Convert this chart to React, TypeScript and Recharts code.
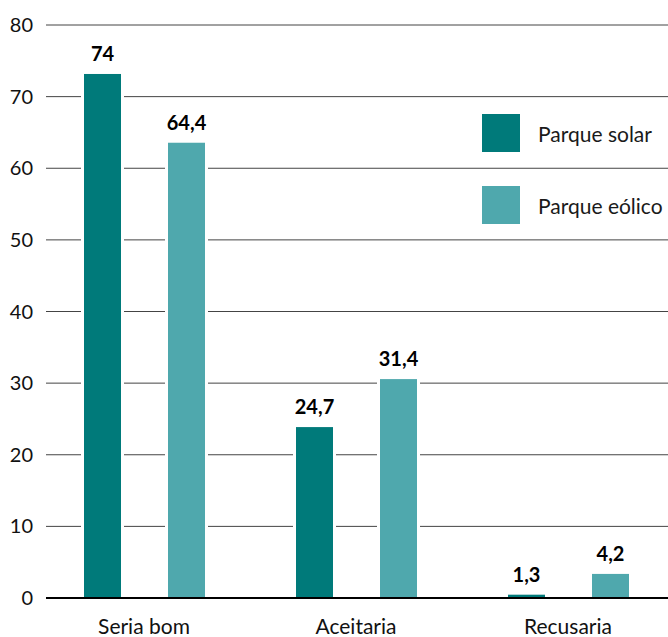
import React from 'react'
import {
  BarChart,
  Bar,
  XAxis,
  YAxis,
  CartesianGrid,
  Legend,
  LabelList,
} from 'recharts'

const categories = ['Seria bom', 'Aceitaria', 'Recusaria']
const solar = [74, 24.7, 1.3]
const eolico = [64.4, 31.4, 4.2]
const yTicks = [0, 10, 20, 30, 40, 50, 60, 70, 80]
const seriesNames = ['Parque solar', 'Parque eólico']

const SOLAR = '#007a7a'
const EOLICO = '#4fa8ad'
const FONT = 'Lato, "Open Sans", sans-serif'

const data = categories.map((name, i) => ({
  name,
  solar: solar[i],
  eolico: eolico[i],
}))

// bars in the original sit a little below their true top, with a white halo over the grid
const INSET = 6
const HALO = 3

const BarShape = (props: any) => {
  const { x, y, width, height, fill } = props
  const top = y + INSET
  const h = Math.max(height - INSET, 0)
  return (
    <g>
      <rect x={x - HALO} y={top - HALO} width={width + HALO * 2} height={Math.max(h + HALO - 1, 0)} fill="#fff" />
      <rect x={x} y={top} width={width} height={h} fill={fill} />
    </g>
  )
}

const ValueLabel = (props: any) => {
  const vb = props.viewBox ?? props
  const { x, y, width } = vb
  const v = String(props.value).replace('.', ',')
  return (
    <text
      x={x + width / 2}
      y={y + INSET - 13}
      textAnchor="middle"
      fontFamily={FONT}
      fontWeight={700}
      fontSize={20}
      fill="#000"
    >
      {v}
    </text>
  )
}

const LegendContent = ({ payload }: { payload?: Array<{ value: string; color: string }> }) => {
  const items = [...(payload ?? [])].sort(
    (a, b) => seriesNames.indexOf(a.value) - seriesNames.indexOf(b.value),
  )
  return (
    <div style={{ fontFamily: FONT }}>
      {items.map((p, i) => (
        <div
          key={i}
          style={{ display: 'flex', alignItems: 'center', height: 38, marginBottom: i === 0 ? 34 : 0 }}
        >
          <div style={{ width: 38, height: 38, background: p.color, marginRight: 18 }} />
          <span style={{ fontSize: 21, color: '#1a1a1a', whiteSpace: 'nowrap' }}>{p.value}</span>
        </div>
      ))}
    </div>
  )
}

export default function App() {
  return (
    <div style={{ position: 'absolute', left: 0, top: 0, background: '#fff' }}>
      <BarChart
        width={668}
        height={637}
        data={data}
        margin={{ top: 25, right: 0, bottom: 0, left: 0 }}
        barSize={37}
        barGap={47}
      >
        <CartesianGrid horizontal vertical={false} stroke="#444" />
        <XAxis
          dataKey="name"
          height={39}
          padding={{ left: -8, right: -6 }}
          axisLine={{ stroke: '#000', strokeWidth: 2 }}
          tickLine={false}
          tickMargin={15}
          tick={{ fill: '#111', fontSize: 21, fontFamily: FONT }}
        />
        <YAxis
          width={46}
          domain={[0, 80]}
          ticks={yTicks}
          axisLine={false}
          tickLine={false}
          tickMargin={7}
          tick={{ fill: '#111', fontSize: 20, fontFamily: FONT }}
        />
        <Legend
          layout="vertical"
          verticalAlign="middle"
          align="center"
          content={<LegendContent />}
          wrapperStyle={{ top: 114, left: 482, width: 186 }}
        />
        <Bar dataKey="solar" name={seriesNames[0]} fill={SOLAR} shape={<BarShape />} isAnimationActive={false}>
          <LabelList dataKey="solar" content={<ValueLabel />} />
        </Bar>
        <Bar dataKey="eolico" name={seriesNames[1]} fill={EOLICO} shape={<BarShape />} isAnimationActive={false}>
          <LabelList dataKey="eolico" content={<ValueLabel />} />
        </Bar>
      </BarChart>
    </div>
  )
}
